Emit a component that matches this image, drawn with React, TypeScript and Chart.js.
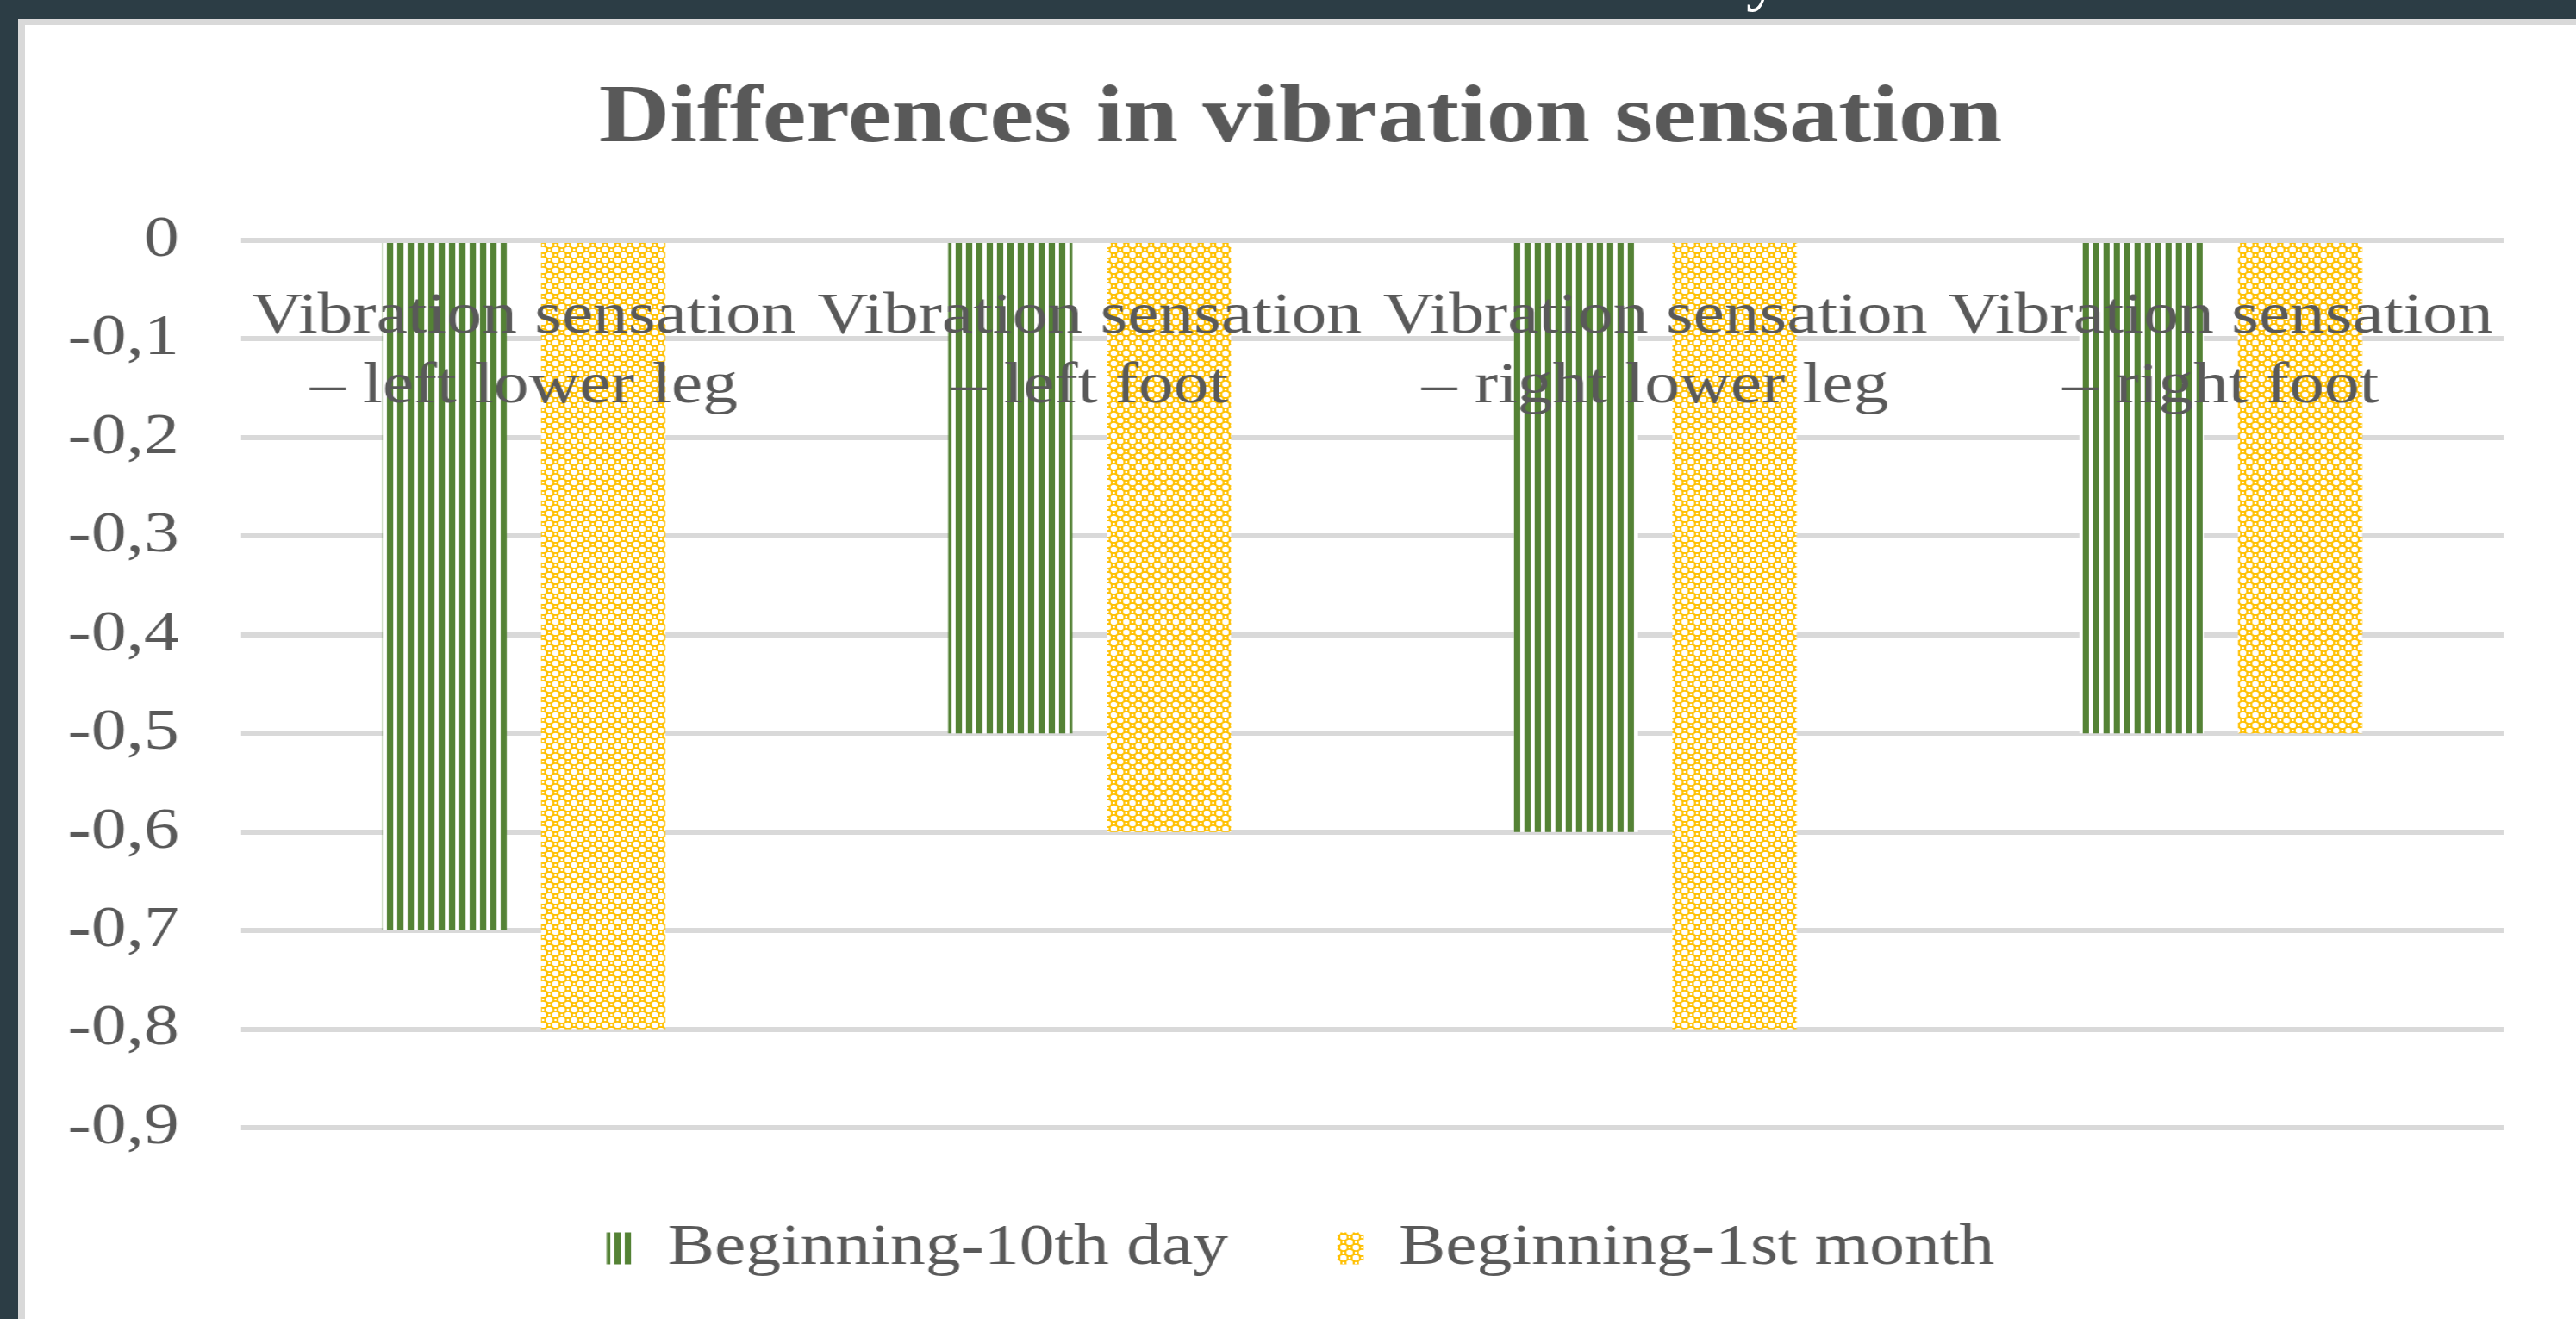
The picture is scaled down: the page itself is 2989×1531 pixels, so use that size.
import React, { useEffect, useRef } from 'react';
import { Chart, registerables } from 'chart.js';

Chart.register(...registerables);

// ---- data ----
const CATEGORIES: string[][] = [
  ['Vibration sensation', '– left lower leg'],
  ['Vibration sensation', '– left foot'],
  ['Vibration sensation', '– right lower leg'],
  ['Vibration sensation', '– right foot'],
];
const SERIES_NAMES = ['Beginning-10th day', 'Beginning-1st month'];
const SERIES_10TH_DAY = [-0.7, -0.5, -0.6, -0.5];
const SERIES_1ST_MONTH = [-0.8, -0.6, -0.8, -0.5];
const Y_TICK_LABELS = ['0', '-0,1', '-0,2', '-0,3', '-0,4', '-0,5', '-0,6', '-0,7', '-0,8', '-0,9'];
const TITLE = 'Differences in vibration sensation';

// ---- look ----
const FONT = "'Liberation Serif', 'Times New Roman', serif";
const TEXT_COLOR = '#595959';
const GREEN = '#548235';
const YELLOW = '#FFC000';
const FRAME = '#2c3d45';
const BAND = '#d9d9d9';

// The reference is horizontally stretched; draw narrower and stretch with CSS.
const CSS_W = 2960;
const CSS_H = 1502;
const DRAW_W = 2467;

function stripePattern(ctx: CanvasRenderingContext2D) {
  const c = document.createElement('canvas');
  c.width = 10;
  c.height = 10;
  const g = c.getContext('2d')!;
  g.fillStyle = '#ffffff';
  g.fillRect(0, 0, 10, 10);
  g.fillStyle = GREEN;
  g.fillRect(0, 0, 6, 10);
  return ctx.createPattern(c, 'repeat')!;
}

function checkPattern(ctx: CanvasRenderingContext2D) {
  const c = document.createElement('canvas');
  c.width = 12;
  c.height = 12;
  const g = c.getContext('2d')!;
  g.fillStyle = YELLOW;
  g.fillRect(0, 0, 12, 12);
  g.fillStyle = '#ffffff';
  g.beginPath();
  g.arc(3, 3, 3.2, 0, Math.PI * 2);
  g.arc(9, 9, 3.2, 0, Math.PI * 2);
  g.fill();
  g.beginPath();
  g.arc(9, 3, 1.2, 0, Math.PI * 2);
  g.arc(3, 9, 1.2, 0, Math.PI * 2);
  g.fill();
  return ctx.createPattern(c, 'repeat')!;
}

export default function App() {
  const canvasRef = useRef<HTMLCanvasElement | null>(null);

  useEffect(() => {
    const canvas = canvasRef.current;
    if (!canvas) return;
    const ctx = canvas.getContext('2d')!;
    const green = stripePattern(ctx);
    const yellow = checkPattern(ctx);

    const chart = new Chart(ctx, {
      type: 'bar',
      data: {
        labels: CATEGORIES,
        datasets: [
          {
            label: SERIES_NAMES[0],
            data: SERIES_10TH_DAY,
            backgroundColor: green,
            borderWidth: 0,
            categoryPercentage: 0.561,
            barPercentage: 0.783,
          },
          {
            label: SERIES_NAMES[1],
            data: SERIES_1ST_MONTH,
            backgroundColor: yellow,
            borderWidth: 0,
            categoryPercentage: 0.561,
            barPercentage: 0.783,
          },
        ],
      },
      options: {
        responsive: false,
        animation: false,
        devicePixelRatio: 1,
        events: [],
        layout: { padding: { left: 0, right: 0, top: 0, bottom: 38 } },
        plugins: {
          tooltip: { enabled: false },
          title: {
            display: true,
            text: TITLE,
            color: TEXT_COLOR,
            font: { family: FONT, size: 95, weight: 'bold', lineHeight: 1.2 },
            padding: { top: 53, bottom: 83 },
          },
          legend: {
            display: true,
            position: 'bottom',
            labels: {
              color: TEXT_COLOR,
              font: { family: FONT, size: 68 },
              boxWidth: 25,
              boxHeight: 37,
              padding: 106,
            },
          },
        },
        scales: {
          x: {
            type: 'category',
            position: { y: 0 } as any,
            grid: { display: false },
            border: { display: false },
            ticks: {
              color: TEXT_COLOR,
              font: { family: FONT, size: 68, lineHeight: 1.2 },
              padding: 40,
              maxRotation: 0,
              minRotation: 0,
              autoSkip: false,
              z: 1,
            },
          },
          y: {
            type: 'linear',
            min: -0.9,
            max: 0,
            afterFit: (scale: any) => {
              scale.width = 209;
            },
            grid: { color: BAND, lineWidth: 6, drawTicks: false },
            border: { display: false },
            ticks: {
              stepSize: 0.1,
              color: TEXT_COLOR,
              font: { family: FONT, size: 68 },
              padding: 60,
              callback: (v: any) => Y_TICK_LABELS[Math.round(-Number(v) * 10)] ?? '',
            },
          },
          yRight: {
            type: 'linear',
            position: 'right',
            min: -0.9,
            max: 0,
            afterFit: (scale: any) => {
              scale.width = 70;
            },
            grid: { display: false, drawTicks: false },
            border: { display: false },
            ticks: { display: false },
          },
        },
      },
    });
    return () => chart.destroy();
  }, []);

  return (
    <div
      style={{
        position: 'fixed',
        left: 0,
        top: 0,
        width: 2989,
        height: 1531,
        background: FRAME,
        overflow: 'hidden',
      }}
    >
      <div
        style={{
          position: 'absolute',
          left: 2026,
          top: 0,
          width: 60,
          height: 22,
          overflow: 'hidden',
        }}
      >
        <span
          style={{
            position: 'absolute',
            left: 0,
            top: -70,
            font: `80px ${FONT}`,
            lineHeight: '80px',
            color: '#ffffff',
          }}
        >
          y
        </span>
      </div>
      <div
        style={{
          position: 'absolute',
          left: 21,
          top: 22,
          right: 0,
          bottom: 0,
          background: '#ffffff',
          borderLeft: `8px solid ${BAND}`,
          borderTop: `7px solid ${BAND}`,
          boxSizing: 'border-box',
        }}
      />
      <canvas
        ref={canvasRef}
        width={DRAW_W}
        height={CSS_H}
        style={{
          position: 'absolute',
          left: 29,
          top: 29,
          width: `${CSS_W}px`,
          height: `${CSS_H}px`,
          display: 'block',
        }}
      />
    </div>
  );
}
